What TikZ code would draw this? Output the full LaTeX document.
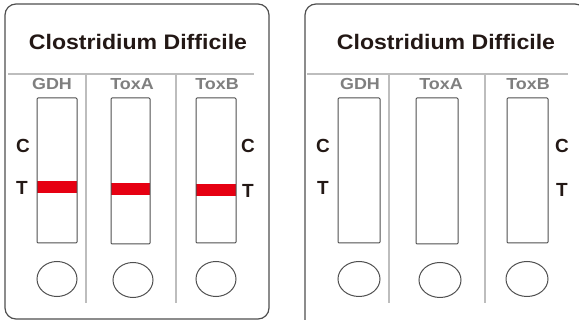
\documentclass[tikz,border=0pt]{standalone}
\usepackage{fontspec}
\setmainfont{Liberation Sans}
\definecolor{ink}{HTML}{231815}
\definecolor{edge}{HTML}{4F4F4F}
\definecolor{divgray}{HTML}{BDBDBD}
\definecolor{labgray}{HTML}{7F7F7F}
\definecolor{bandred}{HTML}{E60012}
\tikzset{
  card/.style={draw=edge, line width=1.2pt, rounded corners=11pt},
  divider/.style={draw=divgray, line width=1.4pt},
  strip/.style={draw=edge, line width=1pt, rounded corners=1pt},
  well/.style={draw=edge, line width=1pt},
  band/.style={fill=bandred},
  title/.style={font=\bfseries\fontsize{21}{21}\selectfont, text=ink, inner sep=0pt},
  collab/.style={font=\bfseries\fontsize{16}{16}\selectfont, text=labgray, inner sep=0pt},
  ctlab/.style={font=\bfseries\fontsize{19}{19}\selectfont, text=ink, inner sep=0pt},
}
\begin{document}
\begin{tikzpicture}[x=1pt,y=-1pt]
\useasboundingbox (0,0) rectangle (579,320);
\clip (0,0) rectangle (579,320);
% ---------- left card ----------
\draw[card] (5,4) rectangle (269,319);
\node[title] (tl) at (138,42) {\scalebox{1.1}[1]{Clostridium Difficile}};
\draw[divider] (8,74) -- (254,74);
\draw[divider] (86,74) -- (86,303);
\draw[divider] (176,74) -- (176,303);
\node[collab] (l1) at (52,84) {\scalebox{1.12}[1]{GDH}};
\node[collab] (l2) at (132,84) {\scalebox{1.12}[1]{ToxA}};
\node[collab] (l3) at (217,84) {\scalebox{1.12}[1]{ToxB}};
\fill[band] (37,181) rectangle (77,193);
\fill[band] (111,183) rectangle (150,195);
\fill[band] (196,184) rectangle (236,196);
\draw[strip] (37,98) rectangle (77,243);
\draw[strip] (111,98) rectangle (150,244);
\draw[strip] (196,98) rectangle (236,243);
\draw[well] (57,279) ellipse [x radius=20, y radius=17.5];
\draw[well] (133,280) ellipse [x radius=20, y radius=17.5];
\draw[well] (216,279) ellipse [x radius=20, y radius=17.5];
\node[ctlab] (lc1) at (23,146) {C};
\node[ctlab] (lt1) at (22,188) {T};
\node[ctlab] (lc2) at (248,146) {C};
\node[ctlab] (lt2) at (248,191) {T};
% ---------- right card ----------
\draw[card] (305,4) rectangle (586,340);
\node[title] (tr) at (446,42) {\scalebox{1.1}[1]{Clostridium Difficile}};
\draw[divider] (307,74) -- (568,74);
\draw[divider] (389,74) -- (389,303);
\draw[divider] (485,74) -- (485,303);
\node[collab] (r1) at (360,84) {\scalebox{1.12}[1]{GDH}};
\node[collab] (r2) at (441,84) {\scalebox{1.12}[1]{ToxA}};
\node[collab] (r3) at (528,84) {\scalebox{1.12}[1]{ToxB}};
\draw[strip] (338,98) rectangle (380,243);
\draw[strip] (416,98) rectangle (458,244);
\draw[strip] (507,98) rectangle (548,243);
\draw[well] (359,279) ellipse [x radius=21, y radius=17.5];
\draw[well] (440,280) ellipse [x radius=21, y radius=17.5];
\draw[well] (527,279) ellipse [x radius=21, y radius=17.5];
\node[ctlab] (rc1) at (323,146) {C};
\node[ctlab] (rt1) at (323,188) {T};
\node[ctlab] (rc2) at (562,146) {C};
\node[ctlab] (rt2) at (562,190) {T};
\end{tikzpicture}
\end{document}
